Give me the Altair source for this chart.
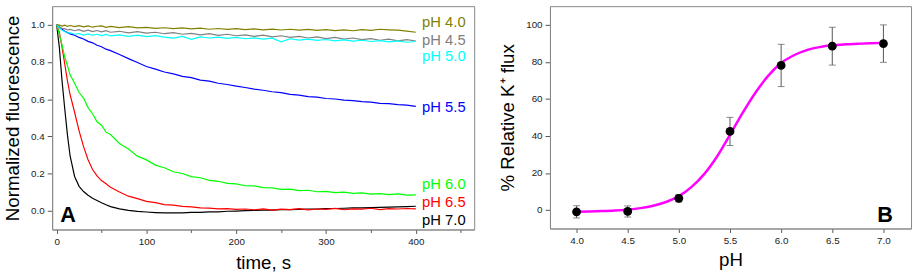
import altair as alt
import pandas as pd

# ---------------- Panel A data ----------------
time_s = [0, 3, 6, 9, 12, 15, 20, 25, 30, 35, 40, 45, 50, 55, 60,
          70, 80, 90, 100, 110, 120, 130, 140, 150, 160, 170, 180, 190, 200,
          210, 220, 230, 240, 250, 260, 270, 280, 290, 300, 310, 320, 330,
          340, 350, 360, 370, 380, 390, 400]

ph40 = [1.000, 0.998, 0.993, 0.998, 0.992, 0.996, 0.990, 0.995, 0.989, 0.994, 0.987, 0.992, 0.994, 0.986, 0.991,
        0.985, 0.990, 0.983, 0.986, 0.981, 0.984, 0.979, 0.983, 0.978, 0.982, 0.976, 0.980, 0.975, 0.979,
        0.974, 0.978, 0.973, 0.977, 0.972, 0.976, 0.971, 0.975, 0.970, 0.974, 0.969, 0.973, 0.968,
        0.974, 0.970, 0.976, 0.973, 0.971, 0.966, 0.960]
ph45 = [1.000, 0.990, 0.980, 0.979, 0.972, 0.975, 0.968, 0.974, 0.965, 0.971, 0.963, 0.969, 0.962, 0.968, 0.960,
        0.965, 0.957, 0.963, 0.955, 0.960, 0.952, 0.958, 0.949, 0.954, 0.946, 0.952, 0.943, 0.949, 0.941,
        0.946, 0.938, 0.944, 0.935, 0.941, 0.932, 0.938, 0.929, 0.935, 0.926, 0.932, 0.923, 0.929,
        0.920, 0.926, 0.917, 0.923, 0.914, 0.920, 0.913]
ph50 = [1.000, 0.983, 0.970, 0.964, 0.955, 0.957, 0.949, 0.953, 0.945, 0.951, 0.944, 0.949, 0.942, 0.948, 0.940,
        0.946, 0.938, 0.944, 0.936, 0.942, 0.934, 0.928, 0.938, 0.922, 0.935, 0.929, 0.934, 0.927, 0.932,
        0.925, 0.930, 0.923, 0.928, 0.908, 0.925, 0.918, 0.923, 0.916, 0.921, 0.914, 0.919, 0.912,
        0.917, 0.910, 0.915, 0.908, 0.913, 0.906, 0.910]
ph55 = [1.000, 0.987, 0.976, 0.965, 0.959, 0.951, 0.944, 0.932, 0.924, 0.911, 0.903, 0.890, 0.882, 0.869, 0.861,
        0.840, 0.818, 0.797, 0.776, 0.762, 0.746, 0.736, 0.723, 0.716, 0.703, 0.697, 0.686, 0.679, 0.670,
        0.663, 0.654, 0.648, 0.640, 0.635, 0.626, 0.622, 0.614, 0.611, 0.604, 0.601, 0.595, 0.592,
        0.587, 0.584, 0.578, 0.576, 0.571, 0.568, 0.562]
ph60 = [1.000, 0.948, 0.892, 0.828, 0.781, 0.731, 0.686, 0.636, 0.606, 0.555, 0.522, 0.479, 0.460, 0.423, 0.410,
        0.362, 0.332, 0.294, 0.274, 0.246, 0.232, 0.210, 0.201, 0.184, 0.178, 0.164, 0.159, 0.148, 0.145,
        0.135, 0.134, 0.125, 0.124, 0.116, 0.117, 0.109, 0.111, 0.103, 0.105, 0.098, 0.101, 0.094,
        0.097, 0.090, 0.093, 0.087, 0.091, 0.085, 0.086]
ph65 = [1.000, 0.960, 0.880, 0.790, 0.700, 0.625, 0.530, 0.430, 0.345, 0.275, 0.222, 0.188, 0.163, 0.146, 0.127,
        0.101, 0.079, 0.066, 0.051, 0.044, 0.034, 0.031, 0.024, 0.022, 0.016, 0.015, 0.011, 0.012, 0.008,
        0.010, 0.006, 0.011, 0.004, 0.009, 0.007, 0.012, 0.005, 0.010, 0.008, 0.013, 0.006, 0.011,
        0.009, 0.014, 0.007, 0.012, 0.010, 0.013, 0.011]
ph70 = [1.000, 0.880, 0.700, 0.550, 0.410, 0.295, 0.185, 0.132, 0.104, 0.084, 0.068, 0.056, 0.044, 0.033, 0.023,
        0.011, 0.003, -0.003, -0.006, -0.009, -0.011, -0.010, -0.011, -0.008, -0.008, -0.005, -0.005, -0.002, -0.001,
        0.001, 0.002, 0.004, 0.004, 0.006, 0.007, 0.008, 0.010, 0.010, 0.012, 0.013, 0.014, 0.016,
        0.016, 0.018, 0.019, 0.020, 0.022, 0.023, 0.025]

series_names = ["pH 7.0", "pH 6.5", "pH 6.0", "pH 5.5", "pH 4.5", "pH 5.0", "pH 4.0"]
series_vals = [ph70, ph65, ph60, ph55, ph45, ph50, ph40]
series_colors = ["#000000", "#FF0000", "#00FF00", "#0000FF", "#808080", "#00FFFF", "#808000"]

label_names = ["pH 4.0", "pH 4.5", "pH 5.0", "pH 5.5", "pH 6.0", "pH 6.5", "pH 7.0"]
label_y = [1.016, 0.916, 0.833, 0.558, 0.145, 0.049, -0.051]
label_x = 407
label_colors = ["#808000", "#808080", "#00FFFF", "#0000FF", "#00FF00", "#FF0000", "#000000"]

# ---------------- Panel B data ----------------
ph_points = [4.0, 4.5, 5.0, 5.5, 6.0, 6.5, 7.0]
flux_mean = [-1.0, -0.8, 6.3, 42.4, 78.0, 88.4, 89.8]
flux_err = [3.3, 3.0, 2.0, 7.6, 11.4, 10.2, 10.1]

fit_ph = [4.0, 4.125, 4.25, 4.375, 4.5, 4.625, 4.75, 4.875, 5.0, 5.125, 5.25, 5.375, 5.5,
          5.625, 5.75, 5.875, 6.0, 6.125, 6.25, 6.375, 6.5, 6.625, 6.75, 6.875, 7.0]
fit_flux = [-0.9, -0.8, -0.6, -0.3, 0.2, 1.0, 2.3, 4.3, 7.5, 12.5, 19.5, 29.0, 40.6,
            52.5, 63.4, 72.5, 79.3, 83.5, 86.3, 87.9, 88.9, 89.4, 89.7, 90.0, 90.2]

font = "Liberation Sans"

rows = []
for name, vals in zip(series_names, series_vals):
    for t, v in zip(time_s, vals):
        rows.append({"t": t, "v": v, "series": name})
df_a = pd.DataFrame(rows)
df_lab = pd.DataFrame({"name": label_names, "y": label_y, "x": [label_x] * len(label_names)})

xa = alt.X("t:Q", scale=alt.Scale(domain=[-5, 465], nice=False, zero=False),
           axis=alt.Axis(title="time, s", values=list(range(0, 451, 50)),
                         labelExpr="datum.value % 100 == 0 ? datum.label : ''",
                         tickSize={"condition": {"test": "datum.value % 100 != 0", "value": 3}, "value": 4},
                         titlePadding=8))
ya = alt.Y("v:Q", scale=alt.Scale(domain=[-0.1, 1.1], nice=False, zero=False),
           axis=alt.Axis(title="Normalized fluorescence", format=".1f",
                         values=[round(0.1 * i, 1) for i in range(0, 11)],
                         labelExpr="round(datum.value*10) % 2 == 0 ? datum.label : ''",
                         tickSize={"condition": {"test": "round(datum.value*10) % 2 != 0", "value": 3}, "value": 5},
                         titlePadding=8))

lines_a = alt.Chart(df_a).mark_line(strokeWidth=1.2, clip=True).encode(
    x=xa, y=ya,
    color=alt.Color("series:N", scale=alt.Scale(domain=series_names, range=series_colors), legend=None),
    order=alt.Order("t:Q"),
)
labels_a = alt.Chart(df_lab).mark_text(align="left", baseline="middle", font=font, fontSize=15).encode(
    x="x:Q", y="y:Q", text="name:N",
    color=alt.Color("name:N", scale=alt.Scale(domain=label_names, range=label_colors), legend=None),
)
letter_a = alt.Chart(pd.DataFrame({"x": [4], "y": [-0.062], "s": ["A"]})).mark_text(
    align="left", baseline="alphabetic", font=font, fontSize=22, fontWeight="bold", color="black"
).encode(x="x:Q", y="y:Q", text="s:N")

panel_a = alt.layer(lines_a, labels_a, letter_a).resolve_scale(color="independent").properties(width=429, height=227)

# Panel B
df_pts = pd.DataFrame({"ph": ph_points, "m": flux_mean,
                       "lo": [m - e for m, e in zip(flux_mean, flux_err)],
                       "hi": [m + e for m, e in zip(flux_mean, flux_err)]})
df_fit = pd.DataFrame({"ph": fit_ph, "f": fit_flux})

xb_scale = alt.Scale(domain=[3.74, 7.27], nice=False, zero=False)
yb_scale = alt.Scale(domain=[-10, 110], nice=False, zero=False)
xb_axis = alt.Axis(title="pH", format=".1f", values=[4 + 0.25 * i for i in range(13)],
                   labelExpr="round(datum.value*4) % 2 == 0 ? datum.label : ''",
                   tickSize={"condition": {"test": "round(datum.value*4) % 2 != 0", "value": 3}, "value": 4},
                   titlePadding=6)
yb_axis = alt.Axis(title="% Relative K⁺ flux", values=list(range(0, 101, 10)),
                   labelExpr="datum.value % 20 == 0 ? datum.label : ''",
                   tickSize={"condition": {"test": "datum.value % 20 != 0", "value": 3}, "value": 5},
                   titlePadding=8)

err_rule = alt.Chart(df_pts).mark_rule(color="#555555", strokeWidth=1).encode(
    x=alt.X("ph:Q", scale=xb_scale, axis=xb_axis),
    y=alt.Y("lo:Q", scale=yb_scale, axis=yb_axis), y2="hi:Q")
cap_lo = alt.Chart(df_pts).mark_tick(orient="horizontal", size=7, thickness=1, color="#555555").encode(
    x="ph:Q", y="lo:Q")
cap_hi = alt.Chart(df_pts).mark_tick(orient="horizontal", size=7, thickness=1, color="#555555").encode(
    x="ph:Q", y="hi:Q")
fit_line = alt.Chart(df_fit).mark_line(color="#FF00FF", strokeWidth=2.5, interpolate="monotone").encode(
    x="ph:Q", y="f:Q")
points = alt.Chart(df_pts).mark_circle(size=80, color="black", opacity=1).encode(x="ph:Q", y="m:Q")
letter_b = alt.Chart(pd.DataFrame({"x": [6.94], "y": [-6.7], "s": ["B"]})).mark_text(
    align="left", baseline="alphabetic", font=font, fontSize=22, fontWeight="bold", color="black"
).encode(x="x:Q", y="y:Q", text="s:N")

panel_b = alt.layer(err_rule, cap_lo, cap_hi, fit_line, points, letter_b).properties(width=367, height=226)

chart = alt.hconcat(panel_a, panel_b, spacing=23).properties(
    padding={"left": 3, "top": 3, "right": 1, "bottom": 0}
).configure_view(stroke="#888888", strokeWidth=1).configure_axis(
    labelFont=font, labelFontSize=10, labelColor="#222222", labelPadding=3,
    titleFont=font, titleFontSize=19, titleFontWeight="normal", titleColor="black",
    domainColor="#888888", tickColor="#555555", grid=False,
)

chart.save("out.html", embed_options={"renderer": "svg", "actions": False})
